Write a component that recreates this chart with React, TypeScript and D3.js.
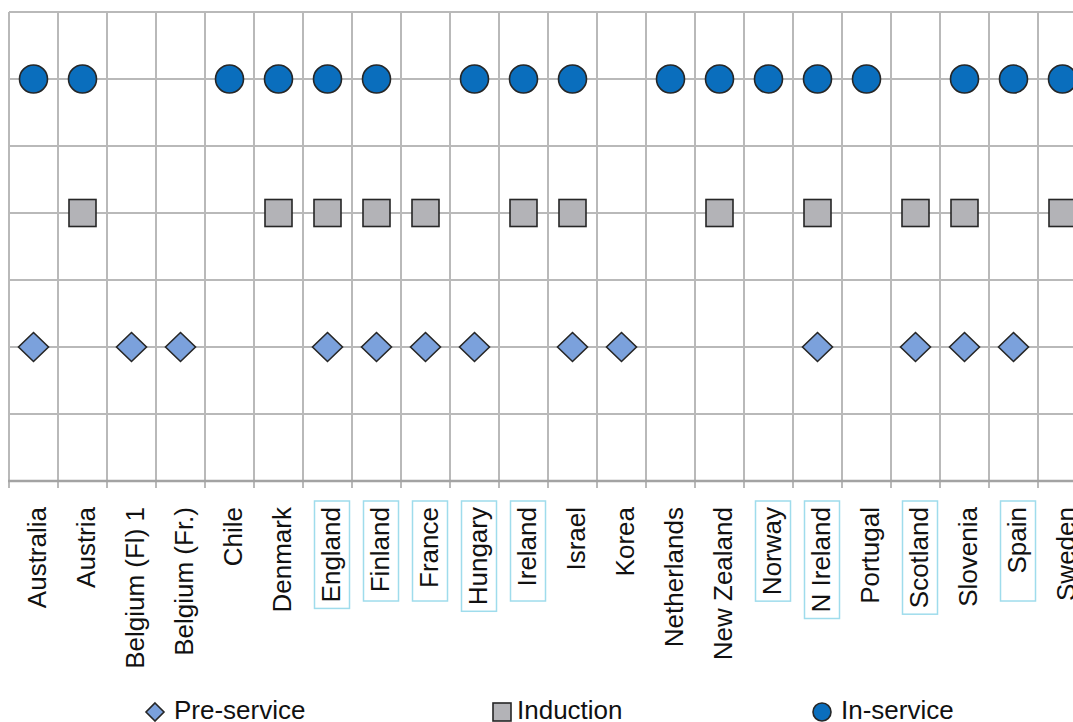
import React, { useEffect, useRef } from "react";
import * as d3 from "d3";

// countries along the x axis (chart is cut off on the right after Sweden)
const countries = [
  "Australia", "Austria", "Belgium (Fl) 1", "Belgium (Fr.)", "Chile", "Denmark",
  "England", "Finland", "France", "Hungary", "Ireland", "Israel", "Korea",
  "Netherlands", "New Zealand", "Norway", "N Ireland", "Portugal", "Scotland",
  "Slovenia", "Spain", "Sweden",
];

// labels with a box drawn around them
const boxedLabels = ["England", "Finland", "France", "Hungary", "Ireland", "Norway", "N Ireland", "Scotland", "Spain"];

// which countries have each stage (value = row on the y axis)
const preService = ["Australia", "Belgium (Fl) 1", "Belgium (Fr.)", "England", "Finland", "France", "Hungary", "Israel", "Korea", "N Ireland", "Scotland", "Slovenia", "Spain"];
const induction = ["Austria", "Denmark", "England", "Finland", "France", "Ireland", "Israel", "New Zealand", "N Ireland", "Scotland", "Slovenia", "Sweden"];
const inService = ["Australia", "Austria", "Chile", "Denmark", "England", "Finland", "Hungary", "Ireland", "Israel", "Netherlands", "New Zealand", "Norway", "N Ireland", "Portugal", "Slovenia", "Spain", "Sweden"];

const seriesValues = { pre: 1, ind: 2, inS: 3 };
const yTicks = [0, 0.5, 1, 1.5, 2, 2.5, 3, 3.5];

const W = 1073;
const H = 722;
const FONT = "'Liberation Sans', Arial, sans-serif";

const App = () => {
  const ref = useRef<SVGSVGElement>(null);

  useEffect(() => {
    const svg = d3.select(ref.current);
    svg.selectAll("*").remove();

    const left = 9, top = 12, bottom = 481, step = 49;
    const x = d3.scaleBand().domain(countries).range([left, left + step * countries.length]).padding(0);
    const y = d3.scaleLinear().domain([0, 3.5]).range([bottom, top]);
    const right = left + step * countries.length;
    const cx = (c: string) => (x(c) as number) + x.bandwidth() / 2;

    const grid = svg.append("g");
    // horizontal grid
    grid.selectAll("line.h")
      .data(yTicks.filter(d => d > 0))
      .join("line")
      .attr("x1", left).attr("x2", right)
      .attr("y1", d => y(d)).attr("y2", d => y(d))
      .attr("stroke", "#b9b9b9").attr("stroke-width", 2);
    // vertical grid + ticks
    const bounds = d3.range(countries.length + 1).map(i => left + i * step);
    grid.selectAll("line.v")
      .data(bounds)
      .join("line")
      .attr("x1", d => d).attr("x2", d => d)
      .attr("y1", top).attr("y2", bottom + 7)
      .attr("stroke", "#b9b9b9").attr("stroke-width", 2);
    // x axis line
    grid.append("line")
      .attr("x1", left - 1).attr("x2", right)
      .attr("y1", bottom).attr("y2", bottom)
      .attr("stroke", "#a3a3a3").attr("stroke-width", 2.5);

    // markers
    const g = svg.append("g").attr("stroke", "#262626").attr("stroke-width", 1.6);
    g.selectAll("path.pre")
      .data(preService)
      .join("path")
      .attr("d", d => {
        const px = cx(d), py = y(seriesValues.pre);
        return `M${px},${py - 14.5}L${px + 15},${py}L${px},${py + 14.5}L${px - 15},${py}Z`;
      })
      .attr("fill", "#7ba1dc");
    g.selectAll("rect.ind")
      .data(induction)
      .join("rect")
      .attr("x", d => cx(d) - 13.5).attr("y", y(seriesValues.ind) - 13.5)
      .attr("width", 27).attr("height", 27)
      .attr("fill", "#b3b3b7");
    g.selectAll("circle.in")
      .data(inService)
      .join("circle")
      .attr("cx", d => cx(d)).attr("cy", y(seriesValues.inS))
      .attr("r", 14)
      .attr("fill", "#0a6ebd");

    // category labels (rotated)
    const labels = svg.append("g");
    countries.forEach(c => {
      const lg = labels.append("g");
      const t = lg.append("text")
        .attr("transform", `translate(${cx(c) + 12.5},507) rotate(-90)`)
        .attr("text-anchor", "end")
        .attr("font-family", FONT)
        .attr("font-size", 26)
        .attr("fill", "#111")
        .text(c);
      if (boxedLabels.includes(c)) {
        const len = (t.node() as SVGTextElement).getComputedTextLength();
        lg.insert("rect", "text")
          .attr("x", cx(c) - 13).attr("y", 501)
          .attr("width", 35).attr("height", Math.max(len + 12, 100))
          .attr("fill", "none").attr("stroke", "#9fdcec").attr("stroke-width", 1.5);
      }
    });

    // legend
    const leg = svg.append("g").attr("font-family", FONT).attr("font-size", 26).attr("fill", "#111");
    const ly = 712;
    leg.append("path")
      .attr("d", `M155,${ly - 9}L164,${ly}L155,${ly + 9}L146,${ly}Z`)
      .attr("fill", "#7ba1dc").attr("stroke", "#262626").attr("stroke-width", 1.6);
    leg.append("text").attr("x", 174).attr("y", 719).text("Pre-service");
    leg.append("rect")
      .attr("x", 493).attr("y", ly - 9).attr("width", 18).attr("height", 18)
      .attr("fill", "#b3b3b7").attr("stroke", "#262626").attr("stroke-width", 1.6);
    leg.append("text").attr("x", 517).attr("y", 719).text("Induction");
    leg.append("circle")
      .attr("cx", 822).attr("cy", ly).attr("r", 9)
      .attr("fill", "#0a6ebd").attr("stroke", "#262626").attr("stroke-width", 1.6);
    leg.append("text").attr("x", 841).attr("y", 719).text("In-service");
  }, []);

  return (
    <div style={{ position: "absolute", left: 0, top: 0, width: W, height: H, overflow: "hidden", background: "#fff" }}>
      <svg ref={ref} width={W} height={H} style={{ display: "block" }} />
    </div>
  );
};

export default App;
